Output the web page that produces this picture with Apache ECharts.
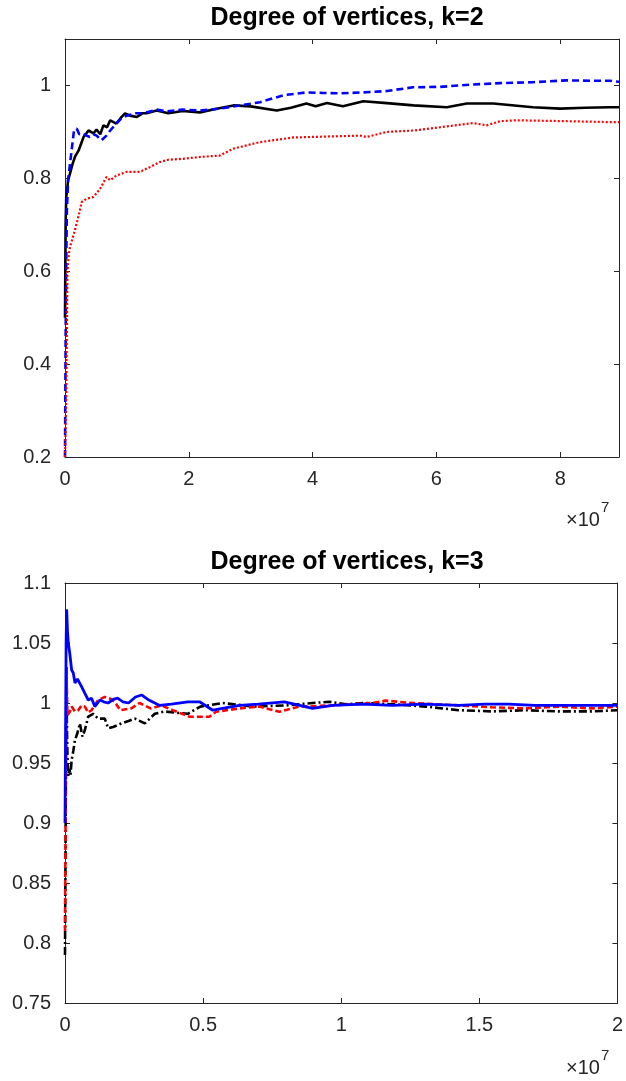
<!DOCTYPE html>
<html><head><meta charset="utf-8">
<script src="https://cdn.jsdelivr.net/npm/echarts@6/dist/echarts.min.js"></script>
<style>html,body{margin:0;padding:0;background:#fff}#c{width:626px;height:1081px}</style>
</head><body><div id="c"></div>
<script>
// ---- k=2 panel (x in units of 1e7) ----
var k2BlueX = [0, 0.01, 0.02, 0.03, 0.05, 0.08, 0.11, 0.145, 0.19, 0.23, 0.27, 0.33, 0.4, 0.46, 0.51, 0.59, 0.67, 0.73, 0.83, 0.92, 1.0, 1.15, 1.27, 1.48, 1.64, 1.9, 2.18, 2.5, 2.83, 3.15, 3.53, 3.9, 4.15, 4.44, 4.82, 5.2, 5.62, 6.06, 6.59, 7.03, 7.56, 8.1, 8.5, 8.8, 8.95];
var k2BlueY = [0.2, 0.45, 0.62, 0.73, 0.796, 0.83, 0.832, 0.903, 0.907, 0.895, 0.897, 0.893, 0.889, 0.895, 0.892, 0.882, 0.892, 0.903, 0.918, 0.93, 0.935, 0.94, 0.94, 0.948, 0.944, 0.948, 0.946, 0.95, 0.957, 0.964, 0.979, 0.985, 0.984, 0.983, 0.985, 0.988, 0.996, 0.997, 1.002, 1.005, 1.007, 1.011, 1.01, 1.01, 1.008];
var k2BlackX = [0, 0.01, 0.02, 0.03, 0.05, 0.08, 0.12, 0.16, 0.22, 0.3, 0.38, 0.46, 0.51, 0.57, 0.62, 0.68, 0.73, 0.83, 0.9, 0.97, 1.05, 1.16, 1.25, 1.32, 1.48, 1.67, 1.9, 2.18, 2.45, 2.72, 3.0, 3.42, 3.65, 3.9, 4.05, 4.23, 4.49, 4.82, 5.2, 5.63, 6.17, 6.49, 6.92, 7.56, 8.0, 8.4, 8.8, 8.95];
var k2BlackY = [0.5, 0.7, 0.76, 0.77, 0.796, 0.81, 0.83, 0.846, 0.86, 0.889, 0.903, 0.897, 0.905, 0.895, 0.914, 0.91, 0.925, 0.918, 0.93, 0.94, 0.935, 0.932, 0.94, 0.94, 0.946, 0.94, 0.945, 0.942, 0.95, 0.957, 0.955, 0.946, 0.952, 0.961, 0.955, 0.962, 0.955, 0.966, 0.962, 0.957, 0.953, 0.961, 0.961, 0.953, 0.95, 0.952, 0.953, 0.953];
var k2RedX = [0, 0.01, 0.02, 0.03, 0.04, 0.06, 0.08, 0.12, 0.16, 0.215, 0.27, 0.35, 0.46, 0.57, 0.67, 0.73, 0.83, 1.0, 1.21, 1.37, 1.53, 1.67, 1.9, 2.18, 2.5, 2.72, 3.15, 3.69, 4.23, 4.77, 4.87, 5.2, 5.63, 6.06, 6.59, 6.81, 7.03, 7.29, 7.7, 8.1, 8.5, 8.8, 8.95];
var k2RedY = [0.2, 0.2, 0.33, 0.47, 0.6, 0.635, 0.652, 0.67, 0.688, 0.717, 0.749, 0.756, 0.76, 0.778, 0.803, 0.796, 0.806, 0.814, 0.814, 0.824, 0.835, 0.84, 0.842, 0.846, 0.849, 0.864, 0.878, 0.888, 0.89, 0.892, 0.889, 0.9, 0.903, 0.91, 0.919, 0.914, 0.923, 0.925, 0.924, 0.923, 0.922, 0.921, 0.921];

// ---- k=3 panel (x in units of 1e7) ----
var k3BlueX = [0, 0.002, 0.004, 0.006, 0.009, 0.012, 0.018, 0.024, 0.03, 0.036, 0.045, 0.06, 0.072, 0.084, 0.096, 0.108, 0.126, 0.14, 0.156, 0.175, 0.19, 0.21, 0.23, 0.255, 0.277, 0.3, 0.325, 0.343, 0.385, 0.445, 0.487, 0.535, 0.58, 0.632, 0.7, 0.794, 0.85, 0.896, 0.969, 1.08, 1.185, 1.3, 1.426, 1.52, 1.606, 1.7, 1.787, 1.9, 2.0];
var k3BlueY = [0.9, 0.97, 1.05, 1.078, 1.06, 1.05, 1.04, 1.0275, 1.025, 1.0167, 1.02, 1.0136, 1.008, 1.0025, 1.004, 0.997, 1.0025, 1.001, 1.0, 1.003, 1.004, 1.001, 1.0, 1.005, 1.0067, 1.003, 1.0, 0.998, 0.999, 1.001, 1.001, 0.994, 0.996, 0.998, 0.999, 1.001, 0.998, 0.9955, 0.998, 0.999, 0.998, 0.999, 0.998, 0.999, 0.999, 0.998, 0.998, 0.998, 0.998];
var k3RedX = [0, 0.002, 0.004, 0.006, 0.009, 0.012, 0.018, 0.024, 0.036, 0.048, 0.06, 0.072, 0.084, 0.096, 0.12, 0.144, 0.16, 0.18, 0.2, 0.24, 0.27, 0.31, 0.35, 0.39, 0.45, 0.523, 0.547, 0.632, 0.704, 0.776, 0.848, 0.969, 1.05, 1.113, 1.16, 1.257, 1.34, 1.426, 1.546, 1.667, 1.787, 1.907, 2.0];
var k3RedY = [0.81, 0.9, 0.97, 1.02, 0.99, 0.989, 0.993, 0.997, 0.993, 0.994, 0.998, 0.997, 0.992, 0.994, 1.0025, 1.005, 1.004, 1.001, 0.994, 0.9955, 1.0, 0.9955, 0.998, 0.994, 0.9886, 0.9886, 0.9927, 0.9955, 0.997, 0.9927, 0.997, 0.998, 0.999, 1.0, 1.002, 1.0, 0.999, 0.998, 0.9964, 0.9955, 0.997, 0.9955, 0.997];
var k3BlackX = [0, 0.002, 0.004, 0.005, 0.007, 0.009, 0.012, 0.016, 0.02, 0.024, 0.03, 0.036, 0.045, 0.054, 0.063, 0.072, 0.084, 0.102, 0.12, 0.144, 0.156, 0.174, 0.205, 0.23, 0.253, 0.289, 0.325, 0.36, 0.4, 0.445, 0.49, 0.571, 0.68, 0.8, 0.896, 0.957, 1.017, 1.09, 1.186, 1.306, 1.426, 1.546, 1.667, 1.787, 1.907, 2.0];
var k3BlackY = [0.79, 0.88, 0.98, 1.03, 0.98, 0.955, 0.939, 0.945, 0.94, 0.9525, 0.96, 0.969, 0.975, 0.983, 0.972, 0.9775, 0.9886, 0.991, 0.987, 0.987, 0.979, 0.98, 0.983, 0.985, 0.987, 0.983, 0.991, 0.993, 0.992, 0.991, 0.997, 1.0, 0.997, 0.998, 1.0, 1.001, 0.999, 1.0, 0.999, 0.997, 0.994, 0.993, 0.994, 0.993, 0.993, 0.994];

var titles = ['Degree of vertices, k=2', 'Degree of vertices, k=3'];
var expLabel = '\u00d710';
var expPower = '7';

function pairs(xs, ys) { return xs.map(function (x, i) { return [x, ys[i]]; }); }

var AX = '#262626';
var FONT = 'Liberation Sans, Arial, sans-serif';
function xAx(grid, min, max, interval, pos, showLab, showMax) {
  return {
    type: 'value', gridIndex: grid, min: min, max: max, interval: interval, position: pos,
    axisLine: { show: true, onZero: false, lineStyle: { color: AX, width: 1 } },
    axisTick: { show: true, inside: true, length: 5, lineStyle: { color: AX } },
    splitLine: { show: false },
    axisLabel: { show: showLab, color: AX, fontSize: 20, fontFamily: FONT, margin: 12, showMaxLabel: showMax }
  };
}
function yAx(grid, min, max, interval, pos, showLab, showMax) {
  return {
    type: 'value', gridIndex: grid, min: min, max: max, interval: interval, position: pos,
    axisLine: { show: true, onZero: false, lineStyle: { color: AX, width: 1 } },
    axisTick: { show: true, inside: true, length: 5, lineStyle: { color: AX } },
    splitLine: { show: false },
    axisLabel: { show: showLab, color: AX, fontSize: 20, fontFamily: FONT, margin: 14, showMaxLabel: showMax }
  };
}
function line(name, xi, yi, data, color, type, w) {
  return { name: name, type: 'line', xAxisIndex: xi, yAxisIndex: yi, data: data, showSymbol: false,
    symbol: 'none', animation: false, lineStyle: { color: color, width: w, type: type } };
}

var chart = echarts.init(document.getElementById('c'), null, { renderer: 'canvas' });
chart.setOption({
  backgroundColor: '#fff',
  animation: false,
  title: [
    { text: titles[0], left: 342, textAlign: 'center', top: 1, textStyle: { fontSize: 25, fontWeight: 'bold', color: '#000', fontFamily: FONT } },
    { text: titles[1], left: 342, textAlign: 'center', top: 545, textStyle: { fontSize: 25, fontWeight: 'bold', color: '#000', fontFamily: FONT } }
  ],
  grid: [
    { left: 65, top: 39, width: 554, height: 418 },
    { left: 65, top: 583, width: 554, height: 420 }
  ],
  xAxis: [
    xAx(0, 0, 8.95, 2, 'bottom', true, false),
    xAx(0, 0, 8.95, 2, 'top', false, false),
    xAx(1, 0, 2, 0.5, 'bottom', true, true),
    xAx(1, 0, 2, 0.5, 'top', false, true)
  ],
  yAxis: [
    yAx(0, 0.2, 1.1, 0.2, 'left', true, false),
    yAx(0, 0.2, 1.1, 0.2, 'right', false, false),
    yAx(1, 0.75, 1.1, 0.05, 'left', true, true),
    yAx(1, 0.75, 1.1, 0.05, 'right', false, true)
  ],
  series: [
    line('k2 black', 0, 0, pairs(k2BlackX, k2BlackY), '#000000', 'solid', 2.6),
    line('k2 blue', 0, 0, pairs(k2BlueX, k2BlueY), '#0000ff', [7, 4], 2.6),
    line('k2 red', 0, 0, pairs(k2RedX, k2RedY), '#ff0000', [2, 2], 2.2),
    line('k3 black', 2, 2, pairs(k3BlackX, k3BlackY), '#000000', [8, 3, 2, 3], 2.6),
    line('k3 red', 2, 2, pairs(k3RedX, k3RedY), '#ff0000', [6, 3], 2.6),
    line('k3 blue', 2, 2, pairs(k3BlueX, k3BlueY), '#0000ff', 'solid', 2.8)
  ],
  graphic: [
    { type: 'text', left: 566, top: 510, style: { text: expLabel, font: '20px ' + FONT, fill: AX } },
    { type: 'text', left: 601, top: 500, style: { text: expPower, font: '15px ' + FONT, fill: AX } },
    { type: 'text', left: 566, top: 1058, style: { text: expLabel, font: '20px ' + FONT, fill: AX } },
    { type: 'text', left: 601, top: 1048, style: { text: expPower, font: '15px ' + FONT, fill: AX } }
  ]
});
</script></body></html>
